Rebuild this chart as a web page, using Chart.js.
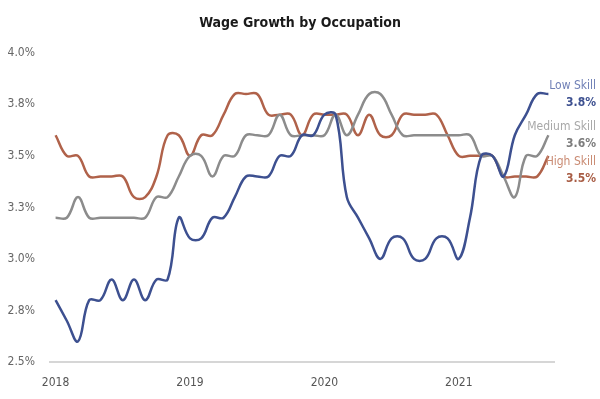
<!DOCTYPE html>
<html>
<head>
<meta charset="utf-8">
<script src="https://cdn.jsdelivr.net/npm/chart.js@4"></script>
<style>
  html, body { margin: 0; padding: 0; background: #fff; }
  #wrap { width: 600px; height: 399px; }
</style>
</head>
<body>
<div id="wrap"><canvas id="wageChart"></canvas></div>
<script>
  // months Jan 2018 - Sep 2021
  const months = [
    'Jan 2018','Feb 2018','Mar 2018','Apr 2018','May 2018','Jun 2018','Jul 2018','Aug 2018','Sep 2018','Oct 2018','Nov 2018','Dec 2018',
    'Jan 2019','Feb 2019','Mar 2019','Apr 2019','May 2019','Jun 2019','Jul 2019','Aug 2019','Sep 2019','Oct 2019','Nov 2019','Dec 2019',
    'Jan 2020','Feb 2020','Mar 2020','Apr 2020','May 2020','Jun 2020','Jul 2020','Aug 2020','Sep 2020','Oct 2020','Nov 2020','Dec 2020',
    'Jan 2021','Feb 2021','Mar 2021','Apr 2021','May 2021','Jun 2021','Jul 2021','Aug 2021','Sep 2021'
  ];

  const lowSkill = [2.8,2.7,2.6,2.8,2.8,2.9,2.8,2.9,2.8,2.9,2.9,3.2,
                    3.1,3.1,3.2,3.2,3.3,3.4,3.4,3.4,3.5,3.5,3.6,3.6,
                    3.7,3.7,3.3,3.2,3.1,3.0,3.1,3.1,3.0,3.0,3.1,3.1,
                    3.0,3.2,3.5,3.5,3.4,3.6,3.7,3.8,3.8];

  const mediumSkill = [3.2,3.2,3.3,3.2,3.2,3.2,3.2,3.2,3.2,3.3,3.3,3.4,
                       3.5,3.5,3.4,3.5,3.5,3.6,3.6,3.6,3.7,3.6,3.6,3.6,
                       3.6,3.7,3.6,3.7,3.8,3.8,3.7,3.6,3.6,3.6,3.6,3.6,
                       3.6,3.6,3.5,3.5,3.4,3.3,3.5,3.5,3.6];

  const highSkill = [3.6,3.5,3.5,3.4,3.4,3.4,3.4,3.3,3.3,3.4,3.6,3.6,
                     3.5,3.6,3.6,3.7,3.8,3.8,3.8,3.7,3.7,3.7,3.6,3.7,
                     3.7,3.7,3.7,3.6,3.7,3.6,3.6,3.7,3.7,3.7,3.7,3.6,
                     3.5,3.5,3.5,3.5,3.4,3.4,3.4,3.4,3.5];

  const yTicks = [2.5, 2.75, 3.0, 3.25, 3.5, 3.75, 4.0];

  const FONT = "'Liberation Sans Narrow', 'DejaVu Sans Condensed', 'Roboto', sans-serif";

  const seriesInfo = [
    { name: 'Low Skill',    data: lowSkill,    line: '#3d5090', label: '#7080b6', value: '#3d5090' },
    { name: 'Medium Skill', data: mediumSkill, line: '#8c8c8c', label: '#a8a8a8', value: '#7d7d7d' },
    { name: 'High Skill',   data: highSkill,   line: '#b0624a', label: '#c98a72', value: '#a85d45' }
  ];

  // labels at the right end of each line
  const endLabels = {
    id: 'endLabels',
    afterDraw(chart) {
      const ctx = chart.ctx;
      const yScale = chart.scales.y;
      const xRight = 596;
      const lineGap = 17;
      const groupGap = 18;
      let prevBottom = -Infinity;
      ctx.save();
      ctx.textAlign = 'right';
      ctx.textBaseline = 'middle';
      seriesInfo.forEach(s => {
        const last = s.data[s.data.length - 1];
        let top = yScale.getPixelForValue(last) - 8;
        if (top < prevBottom + groupGap) top = prevBottom + groupGap;
        ctx.font = '12px ' + FONT;
        ctx.fillStyle = s.label;
        ctx.fillText(s.name, xRight, top);
        ctx.font = 'bold 12px ' + FONT;
        ctx.fillStyle = s.value;
        ctx.fillText(last.toFixed(1) + '%', xRight, top + lineGap);
        prevBottom = top + lineGap;
      });
      ctx.restore();
    }
  };

  new Chart(document.getElementById('wageChart'), {
    type: 'line',
    data: {
      labels: months,
      datasets: seriesInfo.map(s => ({
        label: s.name,
        data: s.data,
        borderColor: s.line,
        backgroundColor: s.line,
        borderWidth: 2.5,
        pointRadius: 0,
        tension: 0.4,
        fill: false
      }))
    },
    options: {
      responsive: true,
      maintainAspectRatio: false,
      animation: false,
      layout: { padding: 0 },
      plugins: {
        legend: { display: false },
        tooltip: { enabled: false },
        title: {
          display: true,
          text: 'Wage Growth by Occupation',
          color: '#1a1a1a',
          font: { family: FONT, size: 14, weight: 'bold' },
          padding: { top: 15, bottom: 21 }
        }
      },
      scales: {
        x: {
          offset: true,
          grid: { display: false, drawTicks: false },
          border: { display: true, color: '#d6d6d6', width: 2 },
          ticks: {
            autoSkip: false,
            maxRotation: 0,
            padding: 14,
            color: '#555',
            font: { family: FONT, size: 12 },
            callback: function (val) {
              const lab = this.getLabelForValue(val);
              return lab.startsWith('Jan') ? lab.slice(4) : '';
            }
          },
          afterFit: scale => { scale.height = 37; }
        },
        y: {
          min: 2.5,
          max: 4.0,
          grid: { display: false, drawTicks: false },
          border: { display: false },
          afterBuildTicks: scale => { scale.ticks = yTicks.map(v => ({ value: v })); },
          ticks: {
            padding: 15,
            color: '#666',
            font: { family: FONT, size: 12 },
            callback: v => v.toFixed(1) + '%'
          },
          afterFit: scale => { scale.width = 50; }
        },
        // empty right axis, keeps room for the end labels
        yRight: {
          position: 'right',
          min: 2.5,
          max: 4.0,
          grid: { display: false, drawTicks: false },
          border: { display: false },
          ticks: { display: false },
          afterFit: scale => { scale.width = 46; }
        }
      }
    },
    plugins: [endLabels]
  });
</script>
</body>
</html>
